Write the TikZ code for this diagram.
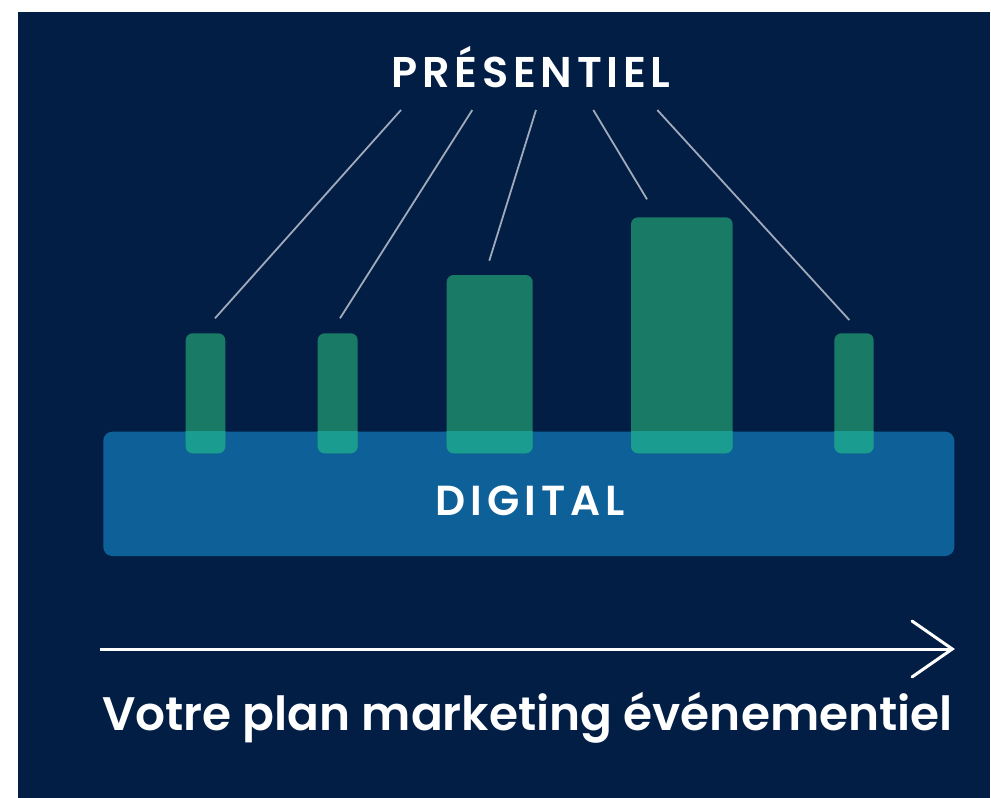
\documentclass[tikz,border=0pt]{standalone}
\usepackage{fontspec}
\setmainfont{Poppins SemiBold}
\usetikzlibrary{calc}
\definecolor{navy}{RGB}{2,30,69}
\definecolor{barg}{RGB}{25,122,101}
\definecolor{bandb}{RGB}{14,96,152}
\definecolor{overl}{RGB}{27,156,144}
\definecolor{linegr}{RGB}{160,170,186}
\tikzset{
  barbox/.style={fill=barg, rounded corners=7pt, inner sep=0pt, outer sep=0pt, anchor=north west},
  bandbox/.style={fill=bandb, rounded corners=9pt, inner sep=0pt, outer sep=0pt, anchor=north west},
  connector/.style={draw=linegr, line width=1.8pt},
  whitetxt/.style={text=white, inner sep=0pt, outer sep=0pt}
}
\begin{document}
\begin{tikzpicture}[x=1pt,y=-1pt]
\useasboundingbox (0,0) rectangle (991,798);
\fill[white] (0,0) rectangle (991,798);
\fill[navy] (18,12) rectangle (990,798);
% band
\node[bandbox, minimum width=851pt, minimum height=124.3pt] (band) at (103.3,431.7) {};
% bars
\node[barbox, minimum width=39.6pt, minimum height=120pt] (b1) at (185.7,333.3) {};
\node[barbox, minimum width=40pt, minimum height=120pt] (b2) at (317.7,333.3) {};
\node[barbox, minimum width=86pt, minimum height=178.3pt] (b3) at (446.7,275) {};
\node[barbox, minimum width=101.7pt, minimum height=236pt] (b4) at (631,217.3) {};
\node[barbox, minimum width=39.4pt, minimum height=120pt] (b5) at (834.3,333.3) {};
% overlaps
\begin{scope}
  \clip (band.north west) rectangle (band.south east);
  \foreach \b in {b1,b2,b3,b4,b5}{
    \fill[overl, rounded corners=7pt] (\b.south west) rectangle (\b.north east);
  }
\end{scope}
% title
\node[whitetxt, anchor=base] (title) at (531,87.3) {\fontsize{43pt}{43pt}\selectfont\addfontfeatures{LetterSpace=11}PRÉSENTIEL};
\node[whitetxt, anchor=base] (digital) at (530,515) {\fontsize{42pt}{42pt}\selectfont\addfontfeatures{LetterSpace=12}DIGITAL};
% connector ends
\coordinate (t1) at (401,110);
\coordinate (t2) at (472.3,110);
\coordinate (t3) at (536,110);
\coordinate (t4) at (593.3,110);
\coordinate (t5) at (657.3,110);
\coordinate (e1) at (215,318.3);
\coordinate (e2) at (340,318.3);
\coordinate (e3) at (489.3,260.7);
\coordinate (e4) at (647,199.3);
\coordinate (e5) at (849.3,320);
\foreach \i in {1,...,5}{ \draw[connector] (t\i) -- (e\i); }
% arrow
\coordinate (as) at (100.3,649);
\coordinate (ae) at (952.3,649);
\coordinate (aa) at (912,621);
\coordinate (ab) at (912,677);
\draw[white, line width=3pt] (as) -- (ae);
\draw[white, line width=3pt, line join=miter, line cap=round] (aa) -- (ae) -- (ab);
% caption
\node[whitetxt, anchor=base west] (caption) at (102,730) {\fontsize{47pt}{47pt}\selectfont Votre plan marketing événementiel};
\end{tikzpicture}
\end{document}
